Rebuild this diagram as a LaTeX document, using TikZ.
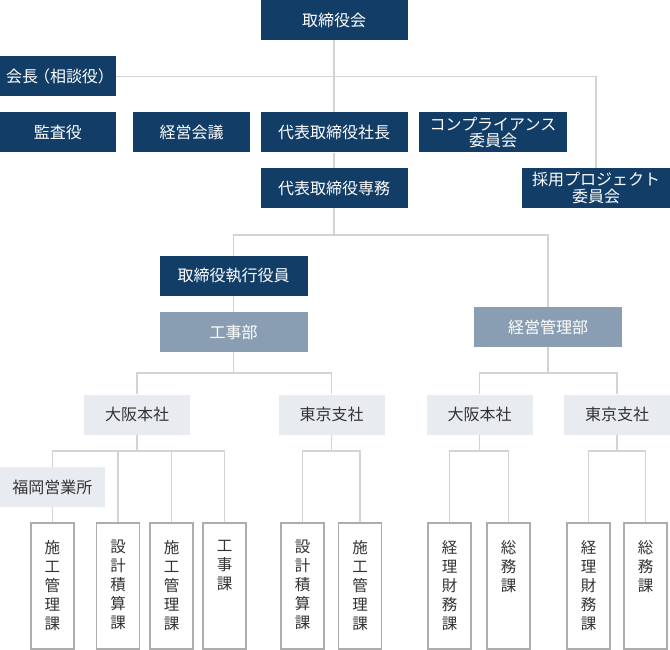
\documentclass[tikz,border=0pt]{standalone}
\usepackage{fontspec}
\setmainfont{Noto Sans CJK JP}
\usetikzlibrary{calc}
\definecolor{navy}{HTML}{123D66}
\definecolor{steel}{HTML}{8A9EB3}
\definecolor{mist}{HTML}{E8ECF0}
\definecolor{wirecol}{HTML}{D3D3D3}
\definecolor{framecol}{HTML}{ADADAD}
\definecolor{ink}{HTML}{333333}
\tikzset{
    exec/.style={fill=navy, text=white, minimum width=147pt, minimum height=40pt, inner sep=0pt, align=center, font=\fontsize{16}{16.5}\selectfont},
    dept/.style={exec, fill=steel},
    base/.style={fill=mist, text=ink, minimum width=106pt, minimum height=40pt, inner sep=0pt, font=\fontsize{16}{16.5}\selectfont},
    sect/.style={draw=framecol, line width=1.2pt, fill=white, text=ink, inner sep=0pt, minimum width=43pt, font=\fontsize{15.5}{19}\selectfont},
    wire/.style={draw=wirecol, line width=1.6pt}
}
\newcommand{\tate}[1]{\parbox[c][126pt][t]{30pt}{\centering\vspace*{17pt}#1}}

\begin{document}
\begin{tikzpicture}[x=1pt, y=-1pt]
\useasboundingbox (0,0) rectangle (670,650);
% board and executives
\node[exec] (board) at (334,20) {取締役会};
\node[exec, minimum width=116pt] (chair) at (58,76.5) {会長\kern-4pt（相談役）\kern-4pt};
\node[exec, minimum width=116pt] (audit) at (58,132.5) {監査役};
\node[exec, minimum width=117pt] (council) at (191.5,132.5) {経営会議};
\node[exec] (pres) at (334,132.5) {代表取締役社長};
\node[exec, minimum width=148pt] (comp) at (493,132.5) {コンプライアンス\\委員会};
\node[exec] (vp) at (334,188) {代表取締役専務};
\node[exec, minimum width=148pt] (recruit) at (596,188) {採用プロジェクト\\委員会};
\node[exec, minimum width=148pt] (officer) at (233.5,276) {取締役執行役員};
% departments
\node[dept, minimum width=148pt] (koji) at (233.5,332) {工事部};
\node[dept, minimum width=148pt] (keiei) at (548,327) {経営管理部};
% offices
\foreach \n/\x/\t in {osk1/137/大阪本社, tky1/331.5/東京支社, osk2/479.5/大阪本社, tky2/617/東京支社}{
    \node[base] (\n) at (\x,414.5) {\t};
}
\node[base, minimum width=105pt] (fuk) at (52.5,487) {福岡営業所};
% sections
\foreach \n/\x/\t in {s1/52.5/{施\\工\\管\\理\\課}, s2/118/{設\\計\\積\\算\\課}, s3/171.5/{施\\工\\管\\理\\課}, s4/224.5/{工\\事\\課}, s5/302.5/{設\\計\\積\\算\\課}, s6/360/{施\\工\\管\\理\\課}, s7/449.5/{経\\理\\財\\務\\課}, s8/508.5/{総\\務\\課}, s9/588.5/{経\\理\\財\\務\\課}, s10/645.5/{総\\務\\課}}{
    \node[sect] (\n) at (\x,586) {\tate{\t}};
}
% junctions
\coordinate (j1) at (334,235);
\coordinate (j2) at (233.5,373);
\coordinate (j3) at (548,373);
\foreach \p/\x in {j4/137, j5/331.5, j6/479.5, j7/617}{
    \coordinate (\p) at (\x,451);
}
% connectors
\draw[wire] (board) -- (pres);
\draw[wire] (pres) -- (vp);
\draw[wire] (chair.east) -| (recruit.north);
\draw[wire] (vp) -- (j1);
\draw[wire] (officer.north) |- (j1) -| (keiei.north);
\draw[wire] (officer) -- (koji);
\draw[wire] (koji) -- (j2);
\draw[wire] (osk1.north) |- (j2) -| (tky1.north);
\draw[wire] (keiei) -- (j3);
\draw[wire] (osk2.north) |- (j3) -| (tky2.north);
\foreach \a/\b in {osk1/j4, tky1/j5, osk2/j6, tky2/j7}{
    \draw[wire] (\a) -- (\b);
}
\foreach \a/\b in {j4/fuk, j4/s2, j4/s3, j4/s4, j5/s5, j5/s6, j6/s7, j6/s8, j7/s9, j7/s10}{
    \draw[wire] (\a) -| (\b.north);
}
\draw[wire] (fuk) -- (s1);
\end{tikzpicture}
\end{document}
